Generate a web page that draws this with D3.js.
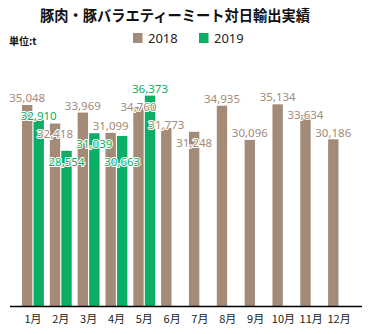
<!DOCTYPE html>
<html><head><meta charset="utf-8">
<script src="https://cdn.jsdelivr.net/npm/d3@7"></script>
<style>
html,body{margin:0;padding:0;background:#fff;}
svg{display:block;font-family:"Noto Sans CJK JP","Noto Sans",sans-serif;}
</style></head>
<body><svg id="c" width="371" height="334"></svg>
<script>
const months = ["1月","2月","3月","4月","5月","6月","7月","8月","9月","10月","11月","12月"];
const seriesNames = ["2018","2019"];
const values2018 = [35048,32418,33969,31099,34760,31773,31248,34935,30096,35134,33634,30186];
const values2019 = [32910,28554,31039,30663,36373];
const title = "豚肉・豚バラエティーミート対日輸出実績";
const unitLabel = "単位:t";
const colors = {"2018":"#a38b78","2019":"#0aae64"};

const svg = d3.select("#c");
const x = d3.scaleBand().domain(months).range([10,362]).paddingInner(0.213).paddingOuter(0.431);
const xs = d3.scaleBand().domain(seriesNames).range([0,x.bandwidth()]).paddingInner(0.1);
const y = d3.scaleLinear().domain([6500,40000]).range([306.5,70]);

const data = [];
months.forEach((m,i)=>{
  data.push({m, s:"2018", v:values2018[i]});
  if (i < values2019.length) data.push({m, s:"2019", v:values2019[i]});
});

// title
svg.append("text").attr("x",175).attr("y",21).attr("text-anchor","middle")
  .attr("font-size",15).attr("font-weight","bold").attr("fill","#111")
  .attr("textLength",270).attr("lengthAdjust","spacingAndGlyphs").text(title);
svg.append("text").attr("x",9).attr("y",45).attr("font-size",10).attr("font-weight","bold").attr("fill","#111").text(unitLabel);

// legend
const lg = svg.append("g");
[["2018",133],["2019",199]].forEach(([s,lx])=>{
  lg.append("rect").attr("x",lx).attr("y",33).attr("width",9.5).attr("height",10).attr("fill",colors[s]);
  lg.append("text").attr("x",lx+15).attr("y",43).attr("font-size",13).attr("fill","#222")
    .attr("font-family","'Noto Sans',sans-serif").text(s);
});

// bars
svg.append("g").selectAll("rect").data(data).join("rect")
  .attr("x",d=>x(d.m)+xs(d.s)).attr("width",xs.bandwidth())
  .attr("y",d=>y(d.v)).attr("height",d=>y.range()[0]-y(d.v))
  .attr("fill",d=>colors[d.s]);

// axis
const ax = svg.append("g").attr("transform",`translate(0,${y.range()[0]})`)
  .call(d3.axisBottom(x).tickSize(0).tickPadding(9));
ax.select(".domain").attr("stroke","#000").attr("stroke-width",1.3).attr("d","M10,0H362");
ax.selectAll("text").attr("font-size",11).attr("fill","#222")
  .attr("font-family","'Noto Sans CJK JP',sans-serif");

// labels with greedy overlap avoidance
const fmt = d3.format(",");
const lbls = svg.append("g").selectAll("text").data(data).join("text")
  .attr("text-anchor","middle").attr("font-size",11.5)
  .attr("font-family","'Noto Sans',sans-serif")
  .attr("fill",d=>colors[d.s]).attr("stroke","#fff").attr("stroke-width",2.2)
  .attr("paint-order","stroke").attr("stroke-linejoin","round")
  .text(d=>fmt(d.v));
const items = [];
lbls.each(function(d){
  const w = this.getComputedTextLength();
  const cx = x(d.m)+xs(d.s)+xs.bandwidth()/2;
  items.push({node:this, cx, w, b:y(d.v)-3});
});
const H = 18;
const sorted = items.slice().sort((a,b)=>a.b-b.b);
const placed = [];
sorted.forEach(it=>{
  let moved = true;
  while (moved) {
    moved = false;
    for (const p of placed) {
      const xo = Math.abs(p.cx-it.cx) < (p.w+it.w)/2 - 4;
      if (xo && Math.abs(p.b-it.b) < H) { it.b = p.b + H; moved = true; }
    }
  }
  placed.push(it);
});
items.forEach(it=>d3.select(it.node).attr("x",it.cx).attr("y",it.b));
</script></body></html>
